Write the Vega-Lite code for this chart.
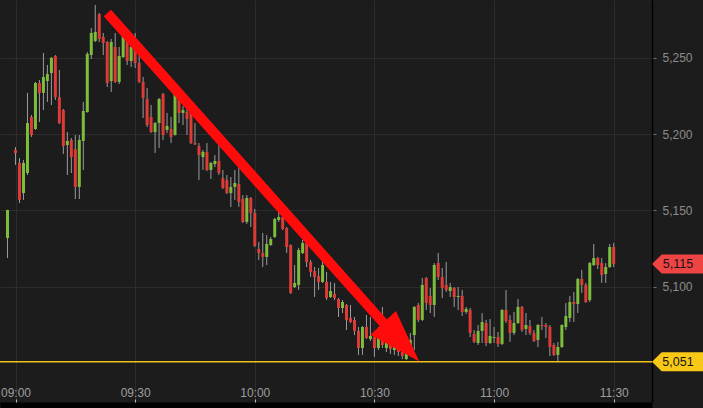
{
  "$schema": "https://vega.github.io/schema/vega-lite/v6.json",
  "width": 652,
  "height": 402,
  "autosize": {"type": "none"},
  "padding": {"left": 0, "top": 0, "right": 51, "bottom": 6},
  "background": "#1c1c1c",
  "config": {"view": {"stroke": null}, "font": "Liberation Sans"},
  "layer": [
    {
      "data": {
        "format": {"parse": {"t": "utc:'%H:%M'"}},
        "values": [
          {"t":"08:58","o":5132.0,"h":5150.5,"l":5118.9,"c":5150.3},
          {"t":"09:00","o":5189.6,"h":5191.5,"l":5179.8,"c":5187.6},
          {"t":"09:01","o":5181.1,"h":5184.3,"l":5154.9,"c":5156.9},
          {"t":"09:02","o":5161.4,"h":5183.0,"l":5156.9,"c":5181.1},
          {"t":"09:03","o":5174.5,"h":5226.9,"l":5173.2,"c":5207.2},
          {"t":"09:04","o":5211.2,"h":5212.5,"l":5198.1,"c":5199.4},
          {"t":"09:05","o":5203.3,"h":5234.1,"l":5202.7,"c":5233.4},
          {"t":"09:06","o":5233.4,"h":5235.4,"l":5207.9,"c":5226.9},
          {"t":"09:07","o":5226.9,"h":5253.0,"l":5215.7,"c":5237.3},
          {"t":"09:08","o":5234.7,"h":5245.2,"l":5221.0,"c":5239.3},
          {"t":"09:09","o":5239.9,"h":5250.4,"l":5219.0,"c":5249.8},
          {"t":"09:10","o":5251.1,"h":5251.7,"l":5222.3,"c":5224.2},
          {"t":"09:11","o":5224.2,"h":5241.9,"l":5206.6,"c":5207.2},
          {"t":"09:12","o":5215.7,"h":5216.4,"l":5187.0,"c":5192.2},
          {"t":"09:13","o":5192.8,"h":5201.3,"l":5173.2,"c":5195.5},
          {"t":"09:14","o":5196.1,"h":5197.4,"l":5174.5,"c":5185.0},
          {"t":"09:15","o":5190.2,"h":5199.4,"l":5157.5,"c":5165.4},
          {"t":"09:16","o":5165.4,"h":5199.4,"l":5157.5,"c":5196.1},
          {"t":"09:17","o":5195.5,"h":5221.0,"l":5176.5,"c":5215.1},
          {"t":"09:18","o":5214.4,"h":5253.7,"l":5214.0,"c":5252.4},
          {"t":"09:19","o":5251.7,"h":5269.4,"l":5249.1,"c":5266.1},
          {"t":"09:20","o":5260.9,"h":5284.4,"l":5260.2,"c":5266.8},
          {"t":"09:21","o":5278.5,"h":5279.2,"l":5260.2,"c":5262.2},
          {"t":"09:22","o":5263.5,"h":5266.1,"l":5251.7,"c":5259.6},
          {"t":"09:23","o":5260.2,"h":5260.9,"l":5230.8,"c":5233.4},
          {"t":"09:24","o":5234.7,"h":5262.2,"l":5227.5,"c":5260.2},
          {"t":"09:25","o":5257.0,"h":5266.1,"l":5233.4,"c":5234.1},
          {"t":"09:26","o":5234.1,"h":5257.0,"l":5232.7,"c":5251.1},
          {"t":"09:27","o":5250.4,"h":5266.8,"l":5249.8,"c":5266.1},
          {"t":"09:28","o":5262.2,"h":5263.5,"l":5245.2,"c":5247.8},
          {"t":"09:29","o":5247.8,"h":5260.2,"l":5243.9,"c":5257.0},
          {"t":"09:30","o":5257.0,"h":5266.1,"l":5243.2,"c":5246.5},
          {"t":"09:31","o":5246.5,"h":5253.0,"l":5233.4,"c":5234.1},
          {"t":"09:32","o":5234.1,"h":5237.3,"l":5210.5,"c":5223.6},
          {"t":"09:33","o":5222.9,"h":5230.1,"l":5204.6,"c":5205.9},
          {"t":"09:34","o":5211.2,"h":5219.0,"l":5200.7,"c":5201.3},
          {"t":"09:35","o":5201.3,"h":5207.9,"l":5187.6,"c":5207.2},
          {"t":"09:36","o":5207.2,"h":5223.6,"l":5190.9,"c":5222.9},
          {"t":"09:37","o":5226.2,"h":5226.9,"l":5196.1,"c":5199.4},
          {"t":"09:38","o":5202.7,"h":5213.8,"l":5200.7,"c":5205.3},
          {"t":"09:39","o":5203.3,"h":5211.2,"l":5194.1,"c":5198.1},
          {"t":"09:40","o":5199.4,"h":5227.5,"l":5199.0,"c":5226.9},
          {"t":"09:41","o":5224.2,"h":5226.9,"l":5207.2,"c":5213.8},
          {"t":"09:42","o":5213.8,"h":5218.4,"l":5205.9,"c":5215.7},
          {"t":"09:43","o":5214.4,"h":5217.7,"l":5199.4,"c":5209.9},
          {"t":"09:44","o":5215.7,"h":5216.4,"l":5193.5,"c":5194.1},
          {"t":"09:45","o":5194.1,"h":5207.2,"l":5192.8,"c":5193.2},
          {"t":"09:46","o":5192.2,"h":5194.1,"l":5169.9,"c":5186.3},
          {"t":"09:47","o":5185.0,"h":5189.6,"l":5176.5,"c":5188.3},
          {"t":"09:48","o":5188.3,"h":5194.1,"l":5175.8,"c":5176.5},
          {"t":"09:49","o":5176.5,"h":5181.7,"l":5170.6,"c":5181.1},
          {"t":"09:50","o":5180.4,"h":5186.3,"l":5178.4,"c":5182.4},
          {"t":"09:51","o":5182.4,"h":5192.8,"l":5173.2,"c":5174.5},
          {"t":"09:52","o":5171.3,"h":5176.5,"l":5164.1,"c":5164.7},
          {"t":"09:53","o":5169.9,"h":5173.2,"l":5160.8,"c":5161.4},
          {"t":"09:54","o":5161.4,"h":5171.9,"l":5152.3,"c":5165.4},
          {"t":"09:55","o":5165.4,"h":5176.5,"l":5156.9,"c":5168.0},
          {"t":"09:56","o":5167.3,"h":5178.4,"l":5152.3,"c":5155.6},
          {"t":"09:57","o":5157.5,"h":5160.1,"l":5141.8,"c":5142.5},
          {"t":"09:58","o":5142.5,"h":5160.1,"l":5141.2,"c":5158.2},
          {"t":"09:59","o":5158.2,"h":5158.8,"l":5139.2,"c":5148.4},
          {"t":"10:00","o":5148.4,"h":5151.0,"l":5126.1,"c":5126.8},
          {"t":"10:01","o":5124.8,"h":5129.4,"l":5117.6,"c":5122.2},
          {"t":"10:02","o":5122.2,"h":5135.3,"l":5113.0,"c":5119.6},
          {"t":"10:03","o":5119.6,"h":5134.0,"l":5114.3,"c":5128.1},
          {"t":"10:04","o":5127.4,"h":5132.7,"l":5126.8,"c":5131.3},
          {"t":"10:05","o":5132.7,"h":5145.1,"l":5132.0,"c":5144.4},
          {"t":"10:06","o":5143.8,"h":5150.3,"l":5142.5,"c":5145.7},
          {"t":"10:07","o":5145.7,"h":5147.7,"l":5137.2,"c":5137.9},
          {"t":"10:08","o":5138.5,"h":5139.2,"l":5122.2,"c":5126.1},
          {"t":"10:09","o":5127.4,"h":5127.8,"l":5095.4,"c":5096.0},
          {"t":"10:10","o":5099.9,"h":5114.3,"l":5099.3,"c":5102.6},
          {"t":"10:11","o":5101.3,"h":5125.5,"l":5098.0,"c":5124.1},
          {"t":"10:12","o":5122.2,"h":5130.7,"l":5121.5,"c":5128.7},
          {"t":"10:13","o":5128.7,"h":5132.7,"l":5113.0,"c":5116.3},
          {"t":"10:14","o":5116.3,"h":5117.6,"l":5106.5,"c":5109.8},
          {"t":"10:15","o":5110.4,"h":5113.0,"l":5093.4,"c":5106.5},
          {"t":"10:16","o":5107.1,"h":5112.4,"l":5098.0,"c":5103.2},
          {"t":"10:17","o":5103.2,"h":5117.6,"l":5102.6,"c":5114.3},
          {"t":"10:18","o":5103.2,"h":5109.8,"l":5091.4,"c":5092.7},
          {"t":"10:19","o":5093.4,"h":5103.2,"l":5092.7,"c":5097.3},
          {"t":"10:20","o":5095.4,"h":5102.6,"l":5091.4,"c":5092.7},
          {"t":"10:21","o":5092.1,"h":5092.7,"l":5080.3,"c":5086.2},
          {"t":"10:22","o":5086.2,"h":5091.4,"l":5082.9,"c":5090.1},
          {"t":"10:23","o":5088.2,"h":5088.8,"l":5071.8,"c":5078.4},
          {"t":"10:24","o":5079.7,"h":5088.2,"l":5076.4,"c":5077.0},
          {"t":"10:25","o":5078.4,"h":5080.3,"l":5068.5,"c":5071.2},
          {"t":"10:26","o":5071.2,"h":5073.8,"l":5055.5,"c":5060.0},
          {"t":"10:27","o":5060.0,"h":5074.4,"l":5055.5,"c":5073.8},
          {"t":"10:28","o":5073.8,"h":5081.6,"l":5065.9,"c":5066.6},
          {"t":"10:29","o":5065.9,"h":5080.3,"l":5064.6,"c":5067.9},
          {"t":"10:30","o":5067.2,"h":5070.5,"l":5054.2,"c":5060.0},
          {"t":"10:31","o":5060.0,"h":5073.8,"l":5058.7,"c":5068.5},
          {"t":"10:32","o":5066.6,"h":5086.9,"l":5060.0,"c":5062.0},
          {"t":"10:33","o":5060.0,"h":5068.5,"l":5057.4,"c":5064.0},
          {"t":"10:34","o":5063.3,"h":5065.3,"l":5056.1,"c":5059.4},
          {"t":"10:35","o":5058.7,"h":5063.3,"l":5055.5,"c":5062.0},
          {"t":"10:36","o":5061.3,"h":5063.3,"l":5054.8,"c":5057.4},
          {"t":"10:37","o":5057.4,"h":5060.0,"l":5052.8,"c":5054.8},
          {"t":"10:38","o":5052.8,"h":5058.7,"l":5052.2,"c":5056.8},
          {"t":"10:39","o":5060.0,"h":5069.9,"l":5057.4,"c":5065.3},
          {"t":"10:40","o":5068.5,"h":5087.5,"l":5058.7,"c":5086.9},
          {"t":"10:41","o":5088.2,"h":5089.5,"l":5077.0,"c":5078.4},
          {"t":"10:42","o":5078.4,"h":5105.8,"l":5077.7,"c":5101.3},
          {"t":"10:43","o":5105.8,"h":5106.5,"l":5084.9,"c":5089.5},
          {"t":"10:44","o":5094.1,"h":5099.3,"l":5082.9,"c":5088.2},
          {"t":"10:45","o":5088.2,"h":5115.6,"l":5080.3,"c":5114.3},
          {"t":"10:46","o":5115.6,"h":5122.2,"l":5104.5,"c":5106.5},
          {"t":"10:47","o":5106.5,"h":5112.4,"l":5092.7,"c":5099.3},
          {"t":"10:48","o":5101.3,"h":5116.3,"l":5096.7,"c":5098.0},
          {"t":"10:49","o":5097.3,"h":5102.6,"l":5093.4,"c":5099.9},
          {"t":"10:50","o":5099.3,"h":5099.9,"l":5086.9,"c":5093.4},
          {"t":"10:51","o":5093.4,"h":5099.9,"l":5084.9,"c":5094.1},
          {"t":"10:52","o":5094.1,"h":5098.0,"l":5081.0,"c":5083.6},
          {"t":"10:53","o":5083.6,"h":5086.9,"l":5082.3,"c":5085.6},
          {"t":"10:54","o":5084.9,"h":5086.2,"l":5067.2,"c":5069.9},
          {"t":"10:55","o":5069.2,"h":5071.8,"l":5063.3,"c":5064.0},
          {"t":"10:56","o":5063.3,"h":5075.1,"l":5062.0,"c":5071.2},
          {"t":"10:57","o":5071.2,"h":5082.9,"l":5063.3,"c":5077.0},
          {"t":"10:58","o":5076.4,"h":5078.4,"l":5061.3,"c":5063.3},
          {"t":"10:59","o":5063.3,"h":5079.0,"l":5062.7,"c":5067.9},
          {"t":"11:00","o":5066.6,"h":5073.8,"l":5063.3,"c":5067.2},
          {"t":"11:01","o":5067.2,"h":5070.5,"l":5060.7,"c":5062.7},
          {"t":"11:02","o":5062.7,"h":5085.6,"l":5062.0,"c":5084.9},
          {"t":"11:03","o":5084.9,"h":5098.0,"l":5076.4,"c":5077.7},
          {"t":"11:04","o":5078.4,"h":5081.6,"l":5064.0,"c":5069.9},
          {"t":"11:05","o":5069.9,"h":5083.6,"l":5068.5,"c":5076.4},
          {"t":"11:06","o":5076.4,"h":5092.1,"l":5075.7,"c":5086.9},
          {"t":"11:07","o":5086.9,"h":5087.5,"l":5070.5,"c":5071.8},
          {"t":"11:08","o":5072.5,"h":5082.9,"l":5068.5,"c":5075.1},
          {"t":"11:09","o":5074.4,"h":5078.4,"l":5068.5,"c":5069.9},
          {"t":"11:10","o":5069.9,"h":5071.8,"l":5064.0,"c":5064.6},
          {"t":"11:11","o":5065.3,"h":5075.7,"l":5060.7,"c":5075.1},
          {"t":"11:12","o":5075.1,"h":5080.3,"l":5071.8,"c":5074.4},
          {"t":"11:13","o":5075.1,"h":5076.4,"l":5066.6,"c":5073.8},
          {"t":"11:14","o":5073.8,"h":5075.1,"l":5054.8,"c":5060.7},
          {"t":"11:15","o":5062.0,"h":5063.3,"l":5054.8,"c":5055.5},
          {"t":"11:16","o":5055.5,"h":5064.0,"l":5050.9,"c":5060.7},
          {"t":"11:17","o":5060.7,"h":5075.5,"l":5060.0,"c":5075.1},
          {"t":"11:18","o":5073.8,"h":5089.5,"l":5071.8,"c":5081.0},
          {"t":"11:19","o":5079.7,"h":5094.1,"l":5077.0,"c":5090.1},
          {"t":"11:20","o":5090.1,"h":5096.7,"l":5077.0,"c":5088.8},
          {"t":"11:21","o":5088.8,"h":5105.8,"l":5082.9,"c":5105.2},
          {"t":"11:22","o":5105.2,"h":5111.1,"l":5096.0,"c":5101.3},
          {"t":"11:23","o":5101.3,"h":5102.6,"l":5089.5,"c":5090.1},
          {"t":"11:24","o":5091.4,"h":5116.3,"l":5090.1,"c":5115.6},
          {"t":"11:25","o":5114.3,"h":5128.1,"l":5113.7,"c":5118.9},
          {"t":"11:26","o":5118.9,"h":5119.6,"l":5111.7,"c":5114.3},
          {"t":"11:27","o":5115.6,"h":5118.9,"l":5102.6,"c":5107.8},
          {"t":"11:28","o":5108.4,"h":5115.6,"l":5102.6,"c":5113.0},
          {"t":"11:29","o":5113.0,"h":5128.1,"l":5112.4,"c":5126.1},
          {"t":"11:30","o":5126.1,"h":5128.7,"l":5113.0,"c":5115.0}
        ]
      },
      "layer": [
        {
          "mark": {"type": "rule", "color": "#9c9c9c", "strokeWidth": 1},
          "encoding": {
            "x": {
              "field": "t", "type": "temporal",
              "scale": {"type": "utc", "domain": [{"year": 1900, "month": 1, "date": 1, "hours": 8, "minutes": 57, "seconds": 22, "utc": true}, {"year": 1900, "month": 1, "date": 1, "hours": 11, "minutes": 38, "seconds": 21, "utc": true}]},
              "axis": {
                "title": null, "orient": "bottom",
                "labelExpr": "utcFormat(datum.value, '%H:%M')",
                "values": [
                  {"year": 1900, "month": 1, "date": 1, "hours": 9, "minutes": 0, "utc": true},
                  {"year": 1900, "month": 1, "date": 1, "hours": 9, "minutes": 30, "utc": true},
                  {"year": 1900, "month": 1, "date": 1, "hours": 10, "minutes": 0, "utc": true},
                  {"year": 1900, "month": 1, "date": 1, "hours": 10, "minutes": 30, "utc": true},
                  {"year": 1900, "month": 1, "date": 1, "hours": 11, "minutes": 0, "utc": true},
                  {"year": 1900, "month": 1, "date": 1, "hours": 11, "minutes": 30, "utc": true}
                ],
                "grid": true, "gridColor": "#2c2c2c", "gridWidth": 1,
                "offset": 3, "domain": true, "domainColor": "#000000", "domainWidth": 6,
                "ticks": true, "tickSize": -6, "tickColor": "#bdbdbd", "tickWidth": 1,
                "labelPadding": -12, "labelBaseline": "top", "labelColor": "#9e9e9e", "labelFontSize": 12,
                "labelFont": "Liberation Sans", "labelFlush": false, "labelOverlap": false
              }
            },
            "y": {
              "field": "l", "type": "quantitative",
              "scale": {"domain": [5024.7, 5287.7], "zero": false, "nice": false},
              "axis": {
                "title": null, "orient": "right", "values": [5100, 5150, 5200, 5250], "format": ",d",
                "grid": true, "gridColor": "#2c2c2c", "gridWidth": 1,
                "domain": true, "domainColor": "#000000", "domainWidth": 1.5,
                "ticks": true, "tickSize": 4, "tickColor": "#6a6a6a",
                "labelPadding": 6, "labelColor": "#8c8c8c", "labelFontSize": 12, "labelFont": "Liberation Sans"
              }
            },
            "y2": {"field": "h"}
          }
        },
        {
          "mark": {"type": "bar", "size": 3},
          "encoding": {
            "x": {"field": "t", "type": "temporal"},
            "y": {"field": "o", "type": "quantitative"},
            "y2": {"field": "c"},
            "color": {"condition": {"test": "datum.c >= datum.o", "value": "#7dbd3c"}, "value": "#dd3b37"}
          }
        }
      ]
    },
    {
      "data": {"values": [{"p": 5115, "label": "5,115", "kind": "last"}, {"p": 5051, "label": "5,051", "kind": "low"}]},
      "transform": [{"filter": "datum.kind == 'low'"}],
      "mark": {"type": "rule", "color": "#f0c21a", "strokeWidth": 1.5},
      "encoding": {
        "y": {"field": "p", "type": "quantitative"}
      }
    },
    {
      "data": {
        "format": {"parse": {"t": "utc:'%H:%M:%S'"}},
        "values": [{"t": "09:23:02", "p": 5279.2}, {"t": "10:33:24", "p": 5073.1}]
      },
      "mark": {"type": "line", "color": "#ff0b0b", "strokeWidth": 10, "strokeCap": "butt"},
      "encoding": {
        "x": {"field": "t", "type": "temporal"},
        "y": {"field": "p", "type": "quantitative"}
      }
    },
    {
      "data": {
        "format": {"parse": {"t": "utc:'%H:%M:%S'"}},
        "values": [{"t": "10:36:43", "p": 5063.8}]
      },
      "mark": {"type": "point", "shape": "M 1 0 L -1 -0.66 L -1 0.66 Z", "filled": true, "opacity": 1, "size": 2800, "angle": 47, "color": "#ff0b0b", "strokeWidth": 0},
      "encoding": {
        "x": {"field": "t", "type": "temporal"},
        "y": {"field": "p", "type": "quantitative"}
      }
    },
    {
      "data": {"values": [{"p": 5115, "label": "5,115", "kind": "last"}, {"p": 5051, "label": "5,051", "kind": "low"}]},
      "layer": [
        {
          "mark": {"type": "point", "shape": "M 0 0 L 0.38 -0.3725 L 2 -0.3725 L 2 0.3725 L 0.38 0.3725 Z", "filled": true, "opacity": 1, "size": 2601, "strokeWidth": 0},
          "encoding": {
            "x": {"value": "width"},
            "y": {"field": "p", "type": "quantitative"},
            "color": {"condition": {"test": "datum.kind == 'last'", "value": "#ee4444"}, "value": "#f7c815"}
          }
        },
        {
          "mark": {"type": "text", "dx": 26, "align": "center", "baseline": "middle", "fontSize": 12.5, "font": "Liberation Sans", "color": "#151515"},
          "encoding": {
            "x": {"value": "width"},
            "y": {"field": "p", "type": "quantitative"},
            "text": {"field": "label"}
          }
        }
      ]
    }
  ]
}
